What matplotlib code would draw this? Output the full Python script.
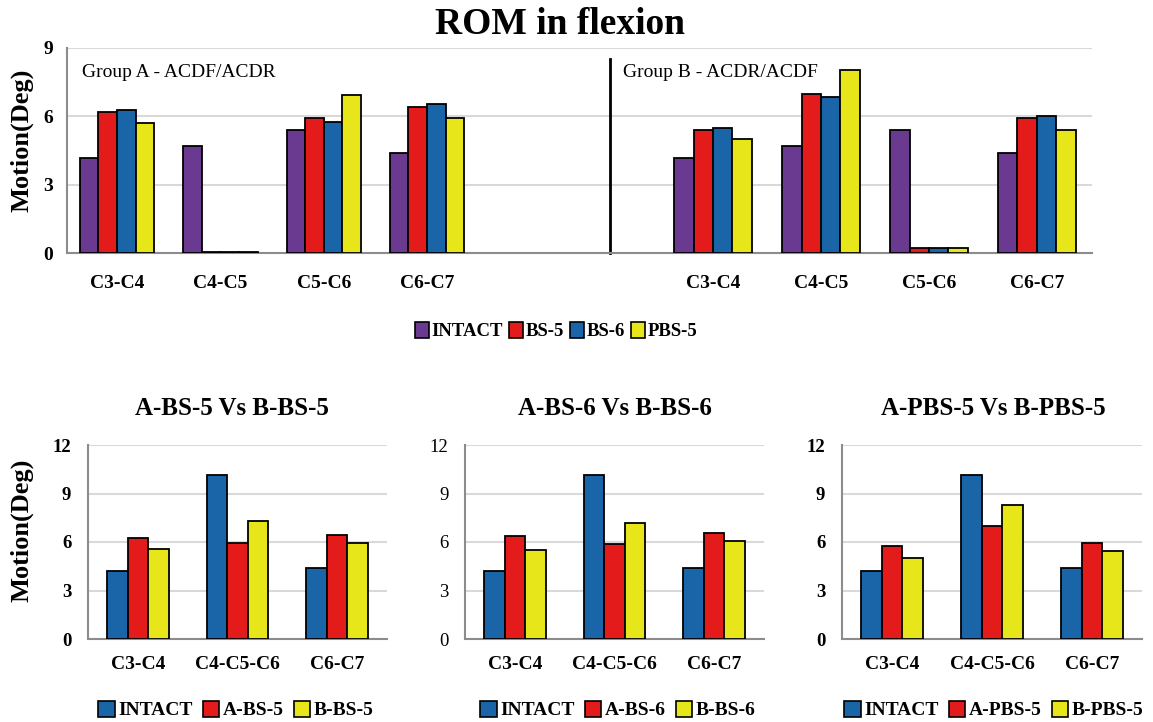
import matplotlib

matplotlib.use("Agg")
import matplotlib.pyplot as plt
from matplotlib.patches import Patch

plt.rcParams["font.family"] = ["Liberation Serif", "DejaVu Serif"]

# ---- data -------------------------------------------------------------
TOP_LEVELS = ["C3-C4", "C4-C5", "C5-C6", "C6-C7"]
TOP_SERIES = ["INTACT", "BS-5", "BS-6", "PBS-5"]
GROUP_A = {
    "INTACT": [4.15, 4.69, 5.42, 4.40],
    "BS-5": [6.20, 0.05, 5.93, 6.43],
    "BS-6": [6.30, 0.05, 5.77, 6.52],
    "PBS-5": [5.70, 0.05, 6.94, 5.93],
}
GROUP_B = {
    "INTACT": [4.15, 4.69, 5.42, 4.40],
    "BS-5": [5.42, 7.00, 0.22, 5.93],
    "BS-6": [5.50, 6.87, 0.22, 6.00],
    "PBS-5": [4.99, 8.03, 0.22, 5.42],
}

BOTTOM_LEVELS = ["C3-C4", "C4-C5-C6", "C6-C7"]
INTACT_FUSED = [4.20, 10.14, 4.39]
PANELS = [
    ("A-BS-5 Vs B-BS-5", ["INTACT", "A-BS-5", "B-BS-5"],
     [INTACT_FUSED, [6.23, 5.94, 6.45], [5.55, 7.28, 5.94]]),
    ("A-BS-6 Vs B-BS-6", ["INTACT", "A-BS-6", "B-BS-6"],
     [INTACT_FUSED, [6.35, 5.86, 6.56], [5.53, 7.17, 6.04]]),
    ("A-PBS-5 Vs B-PBS-5", ["INTACT", "A-PBS-5", "B-PBS-5"],
     [INTACT_FUSED, [5.75, 6.99, 5.94], [5.03, 8.31, 5.44]]),
]

# ---- style ------------------------------------------------------------
PURPLE = "#693A8F"
RED = "#E31B1B"
BLUE = "#1A64A8"
YELLOW = "#E6E61A"
TOP_COLORS = [PURPLE, RED, BLUE, YELLOW]
BOTTOM_COLORS = [BLUE, RED, YELLOW]
GRID = "#D9D9D9"
SPINE = "#8C8C8C"

W, H = 1153, 722
fig = plt.figure(figsize=(W / 100, H / 100), dpi=100)


def px_axes(x0, x1, ytop, ybot):
    return fig.add_axes([x0 / W, 1 - ybot / H, (x1 - x0) / W, (ybot - ytop) / H])


def style_axes(ax, ymax, step, left_spine=True):
    ax.set_ylim(0, ymax)
    ax.set_yticks(range(0, ymax + 1, step))
    ax.grid(axis="y", color=GRID, linewidth=1.5)
    ax.set_axisbelow(True)
    for side in ("top", "right"):
        ax.spines[side].set_visible(False)
    ax.spines["bottom"].set_color(SPINE)
    ax.spines["bottom"].set_linewidth(1.5)
    ax.spines["left"].set_color(SPINE)
    ax.spines["left"].set_linewidth(1.5)
    ax.spines["left"].set_visible(left_spine)
    ax.tick_params(length=0)


def draw_bars(ax, series_values, colors, width):
    n = len(series_values)
    for i, (vals, col) in enumerate(zip(series_values, colors)):
        xs = [k + (i - (n - 1) / 2) * width for k in range(len(vals))]
        ax.bar(xs, vals, width=width, color=col, edgecolor="black", linewidth=1.3, zorder=3)


# ---- top chart: two groups side by side -------------------------------
axA = px_axes(67, 610, 48, 253)
axB = px_axes(610, 1092, 48, 253)
for ax, grp in ((axA, GROUP_A), (axB, GROUP_B)):
    draw_bars(ax, [grp[s] for s in TOP_SERIES], TOP_COLORS, 0.18)
    style_axes(ax, 9, 3)
    ax.set_xticks(range(len(TOP_LEVELS)))
    ax.set_xticklabels(TOP_LEVELS, fontsize=14, fontweight="bold")
    ax.tick_params(axis="x", pad=16)

axA.set_xlim(-0.484, 4.77)
axB.set_xlim(-0.954, 3.51)
axA.set_yticklabels([str(v) for v in range(0, 10, 3)], fontsize=14, fontweight="bold")
axA.tick_params(axis="y", pad=10)
axB.set_yticklabels([])
axB.spines["left"].set_color("black")
axB.spines["left"].set_linewidth(2)
axB.spines["left"].set_bounds(0, 8.5)

axA.text(0.028, 0.88, "Group A - ACDF/ACDR", transform=axA.transAxes,
         fontsize=14, va="center", ha="left")
axB.text(0.027, 0.88, "Group B - ACDR/ACDF", transform=axB.transAxes,
         fontsize=14, va="center", ha="left")

fig.text(560 / W, 1 - 24 / H, "ROM in flexion", fontsize=27, fontweight="bold",
         ha="center", va="center")
fig.text(22 / W, 1 - 140 / H, "Motion(Deg)", fontsize=19, fontweight="bold",
         rotation=90, ha="center", va="center")

top_handles = [Patch(facecolor=c, edgecolor="black", linewidth=1.2) for c in TOP_COLORS]
fig.legend(top_handles, TOP_SERIES, loc="center", bbox_to_anchor=(556 / W, 1 - 331 / H),
           ncol=4, frameon=False, handlelength=0.75, handleheight=1.0, handletextpad=0.15,
           columnspacing=0.3, prop={"size": 13.5, "weight": "bold"})

# ---- bottom panels ---------------------------------------------------
panel_px = [(88, 387, 232, 236), (465, 764, 615, 618), (842, 1142, 993, 994)]
for (x0, x1, tx, lx), (title, labels, values), bold_y in zip(panel_px, PANELS, [True, False, True]):
    ax = px_axes(x0, x1, 445, 639)
    draw_bars(ax, values, BOTTOM_COLORS, 0.207)
    style_axes(ax, 12, 3)
    ax.set_xlim(-0.5, 2.5)
    ax.set_xticks(range(len(BOTTOM_LEVELS)))
    ax.set_xticklabels(BOTTOM_LEVELS, fontsize=14, fontweight="bold")
    ax.set_yticklabels([str(v) for v in range(0, 13, 3)], fontsize=13.5,
                       fontweight="bold" if bold_y else "normal")
    ax.tick_params(axis="x", pad=12)
    ax.tick_params(axis="y", pad=12)
    fig.text(tx / W, 1 - 408 / H, title, fontsize=18, fontweight="bold",
             ha="center", va="center")
    handles = [Patch(facecolor=c, edgecolor="black", linewidth=1.2) for c in BOTTOM_COLORS]
    fig.legend(handles, labels, loc="center", bbox_to_anchor=(lx / W, 1 - 710 / H),
               ncol=3, frameon=False, handlelength=0.85, handleheight=0.9,
               handletextpad=0.2, columnspacing=0.5,
               prop={"size": 14, "weight": "bold"})

fig.text(22 / W, 1 - 530 / H, "Motion(Deg)", fontsize=19, fontweight="bold",
         rotation=90, ha="center", va="center")

fig.savefig("out.png", dpi=100)
